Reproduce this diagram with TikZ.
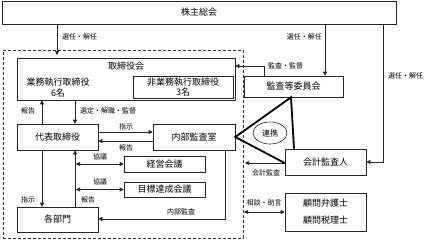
\documentclass[tikz,border=0pt]{standalone}
\usepackage{fontspec}
\setmainfont{Noto Sans CJK JP}
\usetikzlibrary{arrows.meta,shapes.geometric}
\begin{document}
\begin{tikzpicture}[x=1pt,y=-1pt,
  box/.style={draw=black!85,line width=0.6pt,inner sep=0pt,font=\fontsize{9}{10}\selectfont,align=center},
  txt/.style={inner sep=0pt,font=\fontsize{9}{11}\selectfont,align=center},
  lbl/.style={inner sep=0pt,font=\fontsize{7}{8}\selectfont},
  arr/.style={draw=black!85,line width=0.6pt,-{Triangle[length=4pt,width=4pt]}},
  darr/.style={draw=black!85,line width=0.6pt,{Triangle[length=4pt,width=4pt]}-{Triangle[length=4pt,width=4pt]}},
  thk/.style={line width=1.8pt,line join=miter}
]
\useasboundingbox (0,0) rectangle (427,239);
% group
\node[draw=black!80,dashed,dash pattern=on 3pt off 2pt,line width=0.8pt,inner sep=0pt,minimum width=240pt,minimum height=188pt] (grp) at (123,144) {};
% boxes
\node[box,minimum width=394pt,minimum height=23pt] (kabu) at (199,12.5) {株主総会};
\node[box,minimum width=218pt,minimum height=42pt] (tori) at (126,79) {};
\node[txt] (toriT) at (126,66) {取締役会};
\node[txt] (gyomu) at (58,88) {業務執行取締役\\6名};
\node[box,minimum width=100pt,minimum height=22pt,font=\fontsize{9}{10}\selectfont] (hi) at (183,87) {非業務執行取締役\\3名};
\node[box,minimum width=99pt,minimum height=21pt] (kansa) at (293.5,86.5) {監査等委員会};
\node[box,minimum width=81pt,minimum height=26pt] (daihyo) at (57.5,137) {代表取締役};
\node[box,minimum width=82pt,minimum height=26pt] (naibu) at (194,137) {内部監査室};
\node[box,minimum width=81pt,minimum height=16pt] (keiei) at (164.5,164) {経営会議};
\node[box,minimum width=81pt,minimum height=15pt] (mokuhyo) at (164.5,189.5) {目標達成会議};
\node[box,minimum width=81pt,minimum height=25pt] (kakubu) at (57.5,219.5) {各部門};
\node[box,minimum width=81pt,minimum height=26pt] (kaikei) at (325.5,162) {会計監査人};
\node[box,minimum width=81pt,minimum height=38pt,font=\fontsize{9}{17}\selectfont] (komon) at (325.5,212) {顧問弁護士\\顧問税理士};
\node[draw=black!85,line width=0.6pt,ellipse,inner sep=0pt,minimum width=34pt,minimum height=22pt,font=\fontsize{8}{9}\selectfont] (renkei) at (270,133) {連携};
% coordinates
\coordinate (a1) at (57,55);
\coordinate (a2) at (325,0);
\coordinate (a3) at (383,0);
\coordinate (a4) at (264,66);
\coordinate (xl) at (42,0);
\coordinate (xr) at (75,0);
\coordinate (y1) at (0,132);
\coordinate (y2) at (0,141);
\coordinate (xd) at (76,0);
\coordinate (a5) at (225,219);
\coordinate (a6) at (245,163);
\coordinate (a7) at (244,0);
\coordinate (t1) at (291,0);
\coordinate (t3) at (294,0);
% connectors
\draw[arr] (kabu.south -| a1) -- (a1);
\draw[arr] (kabu.south -| a2) -- (kansa.north -| a2);
\draw[arr] (kabu.south -| a3) |- (kaikei.east);
\draw[arr] (kansa.north -| a4) |- (tori.east |- a4);
\draw[arr] (daihyo.north -| xl) -- (tori.south -| xl);
\draw[arr] (tori.south -| xr) -- (daihyo.north -| xr);
\draw[arr] (daihyo.south -| xl) -- (kakubu.north -| xl);
\draw[arr] (kakubu.north -| xr) -- (daihyo.south -| xr);
\draw[arr] (daihyo.east |- y1) -- (naibu.west |- y1);
\draw[arr] (naibu.west |- y2) -- (daihyo.east |- y2);
\draw[darr] (keiei.west -| xd) -- (keiei.west);
\draw[darr] (mokuhyo.west -| xd) -- (mokuhyo.west);
\draw[arr] (naibu.south -| a5) |- (kakubu.east |- a5);
\draw[arr] (kaikei.west |- a6) -- (a6);
\draw[darr] (komon.west -| a7) -- (komon.west);
\draw[thk] (kaikei.north -| t3) -- (kansa.south -| t1) -- (naibu.east) -- (kaikei.west |- a6);
% labels
\node[lbl,anchor=west] (l1) at (62,37) {選任・解任};
\node[lbl,anchor=east] (l2) at (322,37) {選任・解任};
\node[lbl,anchor=west] (l3) at (388,76) {選任・解任};
\node[lbl,anchor=west] (l4) at (268,66) {監査・監督};
\node[lbl] (l5) at (28,111) {報告};
\node[lbl,anchor=west] (l6) at (80,111) {選定・解職・監督};
\node[lbl] (l7) at (126,126.5) {指示};
\node[lbl] (l8) at (126,148) {報告};
\node[lbl] (l9) at (100,157) {協議};
\node[lbl] (l10) at (100,182) {協議};
\node[lbl] (l11) at (28,200) {指示};
\node[lbl] (l12) at (88,200) {報告};
\node[lbl] (l13) at (181,212) {内部監査};
\node[lbl] (l14) at (266,173) {会計監査};
\node[lbl] (l15) at (264,203) {相談・助言};
\end{tikzpicture}
\end{document}
